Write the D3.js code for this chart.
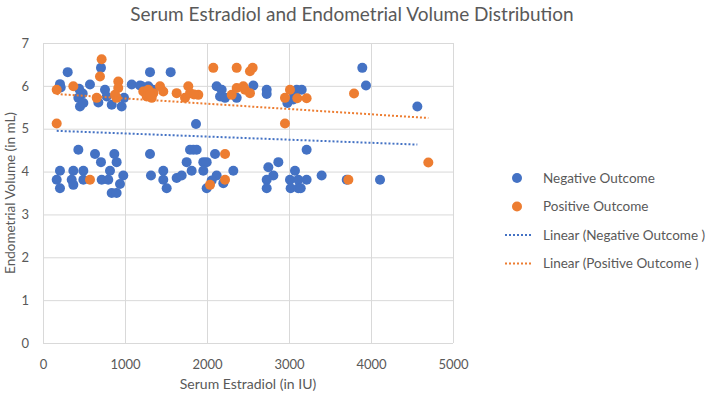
<!DOCTYPE html>
<html lang="en">

<head>
    <meta charset="UTF-8">
    <title>Serum Estradiol and Endometrial Volume Distribution</title>
    <script src="https://d3js.org/d3.v7.min.js"></script>

    <style>
        body {
            margin: 0;
            background: #fff;
        }

        svg {
            font-family: Lato, "Open Sans", sans-serif;
        }
    </style>

</head>

<body>
    <svg id="chart" width="709" height="395"></svg>

    <script>
        // negative outcome: serum estradiol (IU) and endometrial volume (mL)
        const negativeE2 = [301, 707, 1305, 1557, 3894,
            207, 216, 573, 484, 431, 440, 451, 492, 675, 756, 777, 838, 959, 988,
            1082, 1183, 1204, 1284, 1340, 1866,
            2118, 2179, 2159, 2220, 2362, 2565,
            2728, 2728, 2980, 3061, 3094, 3155, 3053, 3939, 4565,
            431, 634, 707, 870, 898,
            207, 167, 207, 370, 350, 370, 492, 492, 716, 796, 817, 939, 979, 838, 898,
            1305, 1317, 1467, 1467, 1508, 1630, 1691, 1752, 1793, 1833, 1874, 1813, 1955, 1996, 1955, 1996,
            2098, 2118, 2057, 2199, 2321,
            2748, 2809, 2870, 2728, 2728, 3012, 3020, 3073, 3113, 3113, 3215, 3143, 3215, 3398, 3704, 4110];
        const negativeVol = [6.32, 6.42, 6.32, 6.32, 6.42,
            6.04, 5.96, 6.03, 5.82, 5.72, 5.93, 5.52, 5.60, 5.61, 5.91, 5.75, 5.56, 5.52, 5.72,
            6.03, 6.01, 5.99, 5.99, 5.91, 5.11,
            5.99, 5.91, 5.75, 5.72, 5.72, 6.01,
            5.91, 5.81, 5.60, 5.81, 5.91, 5.91, 5.68, 6.01, 5.52,
            4.51, 4.41, 4.22, 4.41, 4.22,
            4.02, 3.81, 3.61, 4.02, 3.81, 3.69, 4.02, 3.81, 3.81, 3.81, 4.02, 3.71, 3.91, 3.50, 3.50,
            4.41, 3.91, 4.02, 3.81, 3.61, 3.85, 3.91, 4.22, 4.51, 4.51, 4.51, 4.02, 4.22, 4.22, 4.02, 3.61,
            4.41, 3.91, 3.79, 3.73, 4.02,
            4.10, 3.91, 4.22, 3.81, 3.61, 3.81, 3.61, 4.02, 3.81, 3.61, 4.51, 3.61, 3.81, 3.91, 3.81, 3.81];

        // positive outcome
        const positiveE2 = [715, 695, 2077, 2362, 2524, 2557,
            167, 370, 655, 918, 918, 898, 878,
            1223, 1284, 1345, 1326, 1427, 1467, 1265, 1305,
            1630, 1732, 1772, 1793, 1894, 1841,
            2301, 2362, 2443, 2463, 2524,
            2951, 3012, 3101, 3215, 3793,
            167, 2951,
            573, 2220, 2220, 2037, 3724, 4699];
        const positiveVol = [6.62, 6.22, 6.42, 6.42, 6.34, 6.42,
            5.91, 5.99, 5.72, 6.10, 5.95, 5.72, 5.79,
            5.87, 5.91, 5.83, 5.72, 5.99, 5.87, 5.75, 5.80,
            5.83, 5.72, 5.99, 5.83, 5.79, 5.80,
            5.79, 5.95, 5.99, 5.91, 5.83,
            5.72, 5.91, 5.71, 5.71, 5.82,
            5.12, 5.12,
            3.81, 4.41, 3.81, 3.69, 3.81, 4.21];

        // linear trend lines, end points as shown
        const negTrendE2 = [167, 4565];
        const negTrendVol = [4.95, 4.63];
        const posTrendE2 = [167, 4699];
        const posTrendVol = [5.81, 5.25];

        const xTicks = [0, 1000, 2000, 3000, 4000, 5000];
        const yTicks = [0, 1, 2, 3, 4, 5, 6, 7];

        const legendLabels = ["Negative Outcome", "Positive Outcome",
            "Linear (Negative Outcome )", "Linear (Positive Outcome )"];

        const blue = "#4472c4", orange = "#ed7d31", grey = "#595959";

        const margin = { top: 43, right: 256, bottom: 52, left: 43 },
            width = 709 - margin.left - margin.right,
            height = 395 - margin.top - margin.bottom;

        const root = d3.select("#chart");

        root.append("text")
            .attr("x", 352)
            .attr("y", 21)
            .attr("text-anchor", "middle")
            .attr("fill", grey)
            .style("font-size", "19px")
            .text("Serum Estradiol and Endometrial Volume Distribution");

        const svg = root.append("g")
            .attr("transform", `translate(${margin.left},${margin.top})`);

        const x = d3.scaleLinear().domain([0, 5000]).range([0, width]);
        const y = d3.scaleLinear().domain([0, 7]).range([height, 0]);

        // gridlines
        svg.append("g")
            .selectAll("line.v")
            .data(xTicks)
            .join("line")
            .attr("x1", d => x(d) + 0.5).attr("x2", d => x(d) + 0.5)
            .attr("y1", 0).attr("y2", height)
            .attr("stroke", "#d9d9d9");
        svg.append("g")
            .selectAll("line.h")
            .data(yTicks)
            .join("line")
            .attr("x1", 0).attr("x2", width)
            .attr("y1", d => y(d) + 0.5).attr("y2", d => y(d) + 0.5)
            .attr("stroke", "#d9d9d9");

        // axes (labels only)
        const xAxis = svg.append("g")
            .attr("transform", `translate(0, ${height})`)
            .call(d3.axisBottom(x).tickValues(xTicks).tickFormat(d3.format("d")).tickSize(0).tickPadding(17));
        const yAxis = svg.append("g")
            .call(d3.axisLeft(y).tickValues(yTicks).tickFormat(d3.format("d")).tickSize(0).tickPadding(14));
        [xAxis, yAxis].forEach(a => {
            a.select(".domain").remove();
            a.selectAll("text")
                .attr("fill", grey)
                .style("font-size", "13px")
                .style("font-family", "Lato, sans-serif");
        });

        root.append("text")
            .attr("x", margin.left + width / 2)
            .attr("y", 389)
            .attr("text-anchor", "middle")
            .attr("fill", grey)
            .style("font-size", "14px")
            .text("Serum Estradiol (in IU)");

        root.append("text")
            .attr("transform", `translate(15, ${margin.top + height / 2}) rotate(-90)`)
            .attr("text-anchor", "middle")
            .attr("fill", grey)
            .style("font-size", "13.5px")
            .text("Endometrial Volume (in mL)");

        // points
        svg.append("g")
            .selectAll("circle")
            .data(d3.range(negativeE2.length))
            .join("circle")
            .attr("cx", i => x(negativeE2[i]))
            .attr("cy", i => y(negativeVol[i]))
            .attr("r", 5)
            .attr("fill", blue);

        svg.append("g")
            .selectAll("circle")
            .data(d3.range(positiveE2.length))
            .join("circle")
            .attr("cx", i => x(positiveE2[i]))
            .attr("cy", i => y(positiveVol[i]))
            .attr("r", 5)
            .attr("fill", orange);

        // trend lines
        const line = d3.line().x(d => x(d[0])).y(d => y(d[1]));
        svg.append("path")
            .attr("d", line(d3.zip(negTrendE2, negTrendVol)))
            .attr("fill", "none")
            .attr("stroke", blue)
            .attr("stroke-width", 2)
            .attr("stroke-dasharray", "2,2");
        svg.append("path")
            .attr("d", line(d3.zip(posTrendE2, posTrendVol)))
            .attr("fill", "none")
            .attr("stroke", orange)
            .attr("stroke-width", 2)
            .attr("stroke-dasharray", "2,2");

        // legend
        const legend = root.append("g").attr("transform", "translate(505, 178)");
        const legendColors = [blue, orange, blue, orange];
        legendLabels.forEach((label, i) => {
            const g = legend.append("g").attr("transform", `translate(0, ${i * 28.5})`);
            if (i < 2) {
                g.append("circle").attr("cx", 12).attr("cy", 0).attr("r", 5).attr("fill", legendColors[i]);
            } else {
                g.append("line")
                    .attr("x1", 0).attr("x2", 27).attr("y1", 0).attr("y2", 0)
                    .attr("stroke", legendColors[i])
                    .attr("stroke-width", 2)
                    .attr("stroke-dasharray", "2,2");
            }
            g.append("text")
                .attr("x", 38)
                .attr("y", 0)
                .attr("dy", "0.35em")
                .attr("fill", grey)
                .style("font-size", "13.5px")
                .text(label);
        });
    </script>


</body>

</html>
